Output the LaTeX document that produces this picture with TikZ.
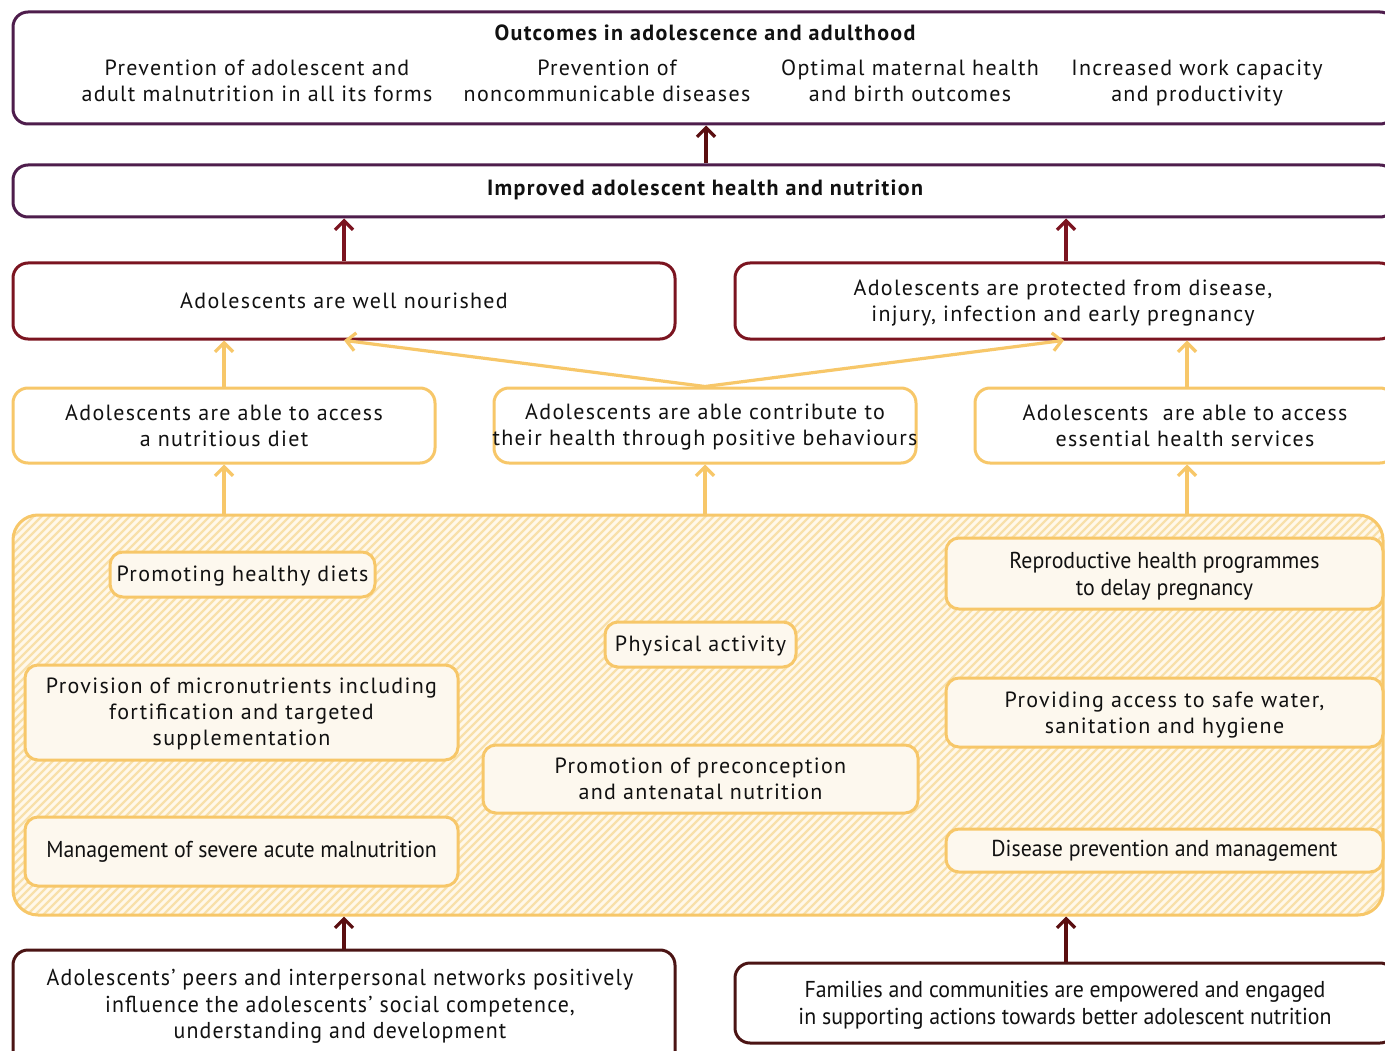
\documentclass[tikz,border=0pt]{standalone}
\usepackage{fontspec}
\setmainfont{PT Sans}[LetterSpace=6]
\newfontfamily\condfont{PT Sans}[FakeStretch=0.95]
\newfontfamily\peerfont{PT Sans}[FakeStretch=0.95,LetterSpace=5]
\usetikzlibrary{arrows.meta,calc}
\definecolor{purpC}{HTML}{4E1D4C}
\definecolor{redC}{HTML}{7B1420}
\definecolor{darrC}{HTML}{5A0E10}
\definecolor{brownC}{HTML}{4B1414}
\definecolor{yelC}{HTML}{F7C769}
\definecolor{creamC}{HTML}{FDF8EE}
\definecolor{hatchbg}{HTML}{FFF8EA}
\definecolor{stripeC}{HTML}{F8E0AA}
\definecolor{txtC}{HTML}{111111}
\tikzset{
  every node/.style={font=\fontsize{22}{26}\selectfont, text=txtC, align=center, inner sep=0pt},
  bigbox/.style={draw, line width=3pt, rounded corners=15pt, fill=white},
  purpbox/.style={bigbox, draw=purpC},
  redbox/.style={bigbox, draw=redC},
  brownbox/.style={bigbox, draw=brownC},
  yelbox/.style={bigbox, draw=yelC},
  innerbox/.style={draw=yelC, line width=3pt, rounded corners=13pt, fill=creamC},
  panelbox/.style={draw=yelC, line width=3pt, rounded corners=25pt},
  arr/.style={-{Straight Barb[length=9pt,width=18pt]}, line width=3.2pt},
  darr/.style={arr, draw=darrC},
  rarr/.style={arr, draw=redC},
  yarr/.style={arr, draw=yelC},
  cond/.style={font=\condfont\fontsize{23}{26.5}\selectfont},
  peer/.style={font=\peerfont\fontsize{23}{26.5}\selectfont},
  boldtxt/.style={font=\bfseries\fontsize{22}{26}\selectfont}
}
\begin{document}
\begin{tikzpicture}[x=1pt,y=-1pt]
\useasboundingbox (0,0) rectangle (1385,1051);
\fill[white] (0,0) rectangle (1385,1051);
\clip (0,0) rectangle (1385,1051);

% top outcomes box
\node[purpbox, minimum width=1382pt, minimum height=112pt] (top) at (704,68) {};
\node[boldtxt] (toptitle) at (705,33) {Outcomes in adolescence and adulthood};
\node (o1) at (257,81) {Prevention of adolescent and\\adult malnutrition in all its forms};
\node (o2) at (607,81) {Prevention of\\noncommunicable diseases};
\node (o3) at (910,81) {Optimal maternal health\\and birth outcomes};
\node (o4) at (1197,82.5) {Increased work capacity\\and productivity};

% improved box
\node[purpbox, minimum width=1382pt, minimum height=52pt] (imp) at (704,191) {};
\node[boldtxt] (imptxt) at (705,190) {Improved adolescent health and nutrition};

% level 3
\node[redbox, minimum width=662pt, minimum height=76pt] (nour) at (344,301) {Adolescents are well nourished};
\node[redbox, minimum width=660pt, minimum height=76pt] (prot) at (1065,301) {};
\node (prottxt) at (1063,303) {Adolescents are protected from disease,\\injury, infection and early pregnancy};

% level 4
\node[yelbox, minimum width=422pt, minimum height=75pt] (acc) at (224,425.5) {Adolescents are able to access\\a nutritious diet};
\node[yelbox, minimum width=422pt, minimum height=75pt] (beh) at (705,425.5) {};
\node (behtxt) at (705,427.5) {Adolescents are able contribute to\\their health through positive behaviours};
\node[yelbox, minimum width=420pt, minimum height=75pt] (serv) at (1185,425.5) {Adolescents\ \ are able to access\\essential health services};

% hatched panel
\begin{scope}
  \clip[rounded corners=25pt] (13,515) rectangle (1383,915);
  \fill[hatchbg] (13,515) rectangle (1383,915);
  \foreach \i in {-420,-412,...,1400} {\draw[stripeC, line width=2.4pt] (\i,930) -- (\i+430,500);}
\end{scope}
\node[panelbox, minimum width=1370pt, minimum height=400pt] (panel) at (698,715) {};

% inner boxes
\node[innerbox, minimum width=265pt, minimum height=45pt] (diets) at (242.5,574.5) {};
\node (dietstxt) at (242.5,576) {Promoting healthy diets};
\node[innerbox, minimum width=433pt, minimum height=95pt] (micro) at (241.5,712.5) {};
\node (microtxt) at (241.5,713.5) {Provision of micronutrients including\\fortification and targeted\\supplementation};
\node[innerbox, minimum width=433pt, minimum height=69pt, cond] (sam) at (241.5,851.5) {Management of severe acute malnutrition};
\node[innerbox, minimum width=191pt, minimum height=45pt] (phys) at (700.5,644.5) {};
\node (phystxt) at (700.5,646) {Physical activity};
\node[innerbox, minimum width=435pt, minimum height=68pt] (precon) at (700.5,779) {Promotion of preconception\\and antenatal nutrition};
\node[innerbox, minimum width=437pt, minimum height=71pt] (repro) at (1164.5,573.5) {};
\node[cond] (reprotxt) at (1164.5,576.5) {Reproductive health programmes\\to delay pregnancy};
\node[innerbox, minimum width=437pt, minimum height=69pt] (water) at (1164.5,712.5) {};
\node (watertxt) at (1164.5,715.5) {Providing access to safe water,\\sanitation and hygiene};
\node[innerbox, minimum width=437pt, minimum height=43pt, cond] (dis) at (1164.5,850.5) {Disease prevention and management};

% bottom boxes
\node[brownbox, minimum width=662pt, minimum height=120pt] (peers) at (344,1010) {};
\node[peer] (peerstxt) at (340,1006.5) {Adolescents’ peers and interpersonal networks positively\\influence the adolescents’ social competence,\\understanding and development};
\node[brownbox, minimum width=660pt, minimum height=80pt] (fam) at (1065,1003) {};
\node[cond] (famtxt) at (1065,1005.5) {Families and communities are empowered and engaged\\in supporting actions towards better adolescent nutrition};

% connectors
\draw[darr] ([xshift=2pt]imp.north) -- ([xshift=2pt]top.south);
\draw[rarr] (nour.north) -- (nour.north |- imp.south);
\draw[rarr] ([xshift=1pt]prot.north) -- ([xshift=1pt]prot.north |- imp.south);
\draw[yarr] (acc.north) -- (acc.north |- nour.south);
\draw[yarr] ([xshift=2pt]serv.north) -- ([xshift=2pt]serv.north |- prot.south);
\draw[yarr, shorten >=-1pt] (beh.north) -- ([xshift=1pt]nour.south);
\draw[yarr, shorten >=-1pt] (beh.north) -- ([xshift=-2pt]prot.south);
\draw[yarr] (acc.south |- panel.north) -- (acc.south);
\draw[yarr] (beh.south |- panel.north) -- (beh.south);
\draw[yarr] ([xshift=2pt]serv.south |- panel.north) -- ([xshift=2pt]serv.south);
\draw[darr] (peers.north) -- (peers.north |- panel.south);
\draw[darr] ([xshift=1pt]fam.north) -- ([xshift=1pt]fam.north |- panel.south);
\end{tikzpicture}
\end{document}
